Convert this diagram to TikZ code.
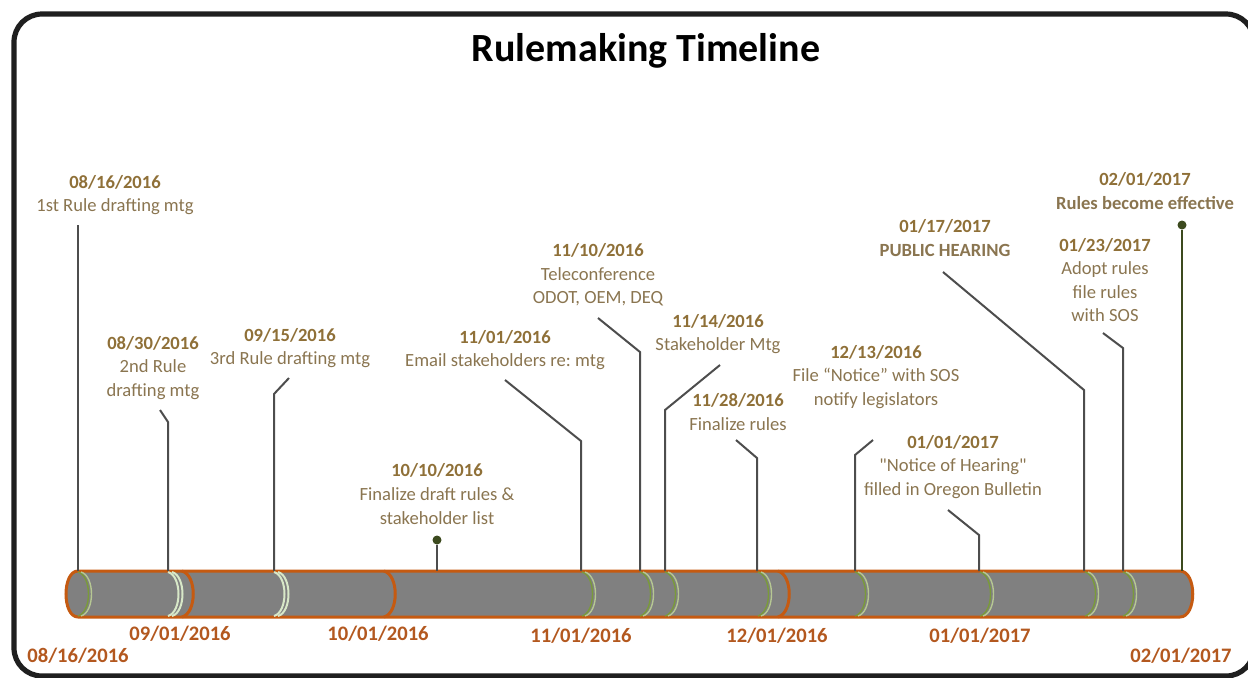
\documentclass[tikz,border=0pt]{standalone}
\usepackage{fontspec}
\setmainfont{Carlito}
\usepackage{xcolor}
\definecolor{barorange}{HTML}{C55A11}
\definecolor{axisorange}{HTML}{B3581F}
\definecolor{datebrown}{HTML}{8F7038}
\definecolor{textbrown}{HTML}{8A7550}
\definecolor{leadgray}{HTML}{4D4D4D}
\definecolor{pingreen}{HTML}{3C4A1E}
\definecolor{arcgreen}{HTML}{7A9A3A}
\definecolor{arclight}{HTML}{D8E8C8}
\definecolor{bargray}{HTML}{808080}
\newcommand{\evdate}[1]{\textcolor{datebrown}{\bfseries #1}}

\begin{document}
\begin{tikzpicture}[x=0.5pt, y=-0.5pt,
                every node/.style={inner sep=0pt, align=center},
                event/.style={text=textbrown, font=\fontsize{9.3}{11.8}\selectfont},
                axis/.style={text=axisorange, font=\bfseries\fontsize{10.3}{12}\selectfont},
                leader/.style={draw=leadgray, line width=1pt},
                pin/.style={draw=pingreen, line width=1.1pt},
                pindot/.style={circle, fill=pingreen, minimum size=4.5pt},
                monarc/.style={draw=barorange, line width=1.5pt},
                evarc/.style={draw=arcgreen, line width=0.7pt}]
        \useasboundingbox (0,0) rectangle (1248,677);
        \draw[line width=2.6pt, draw=black!88, rounded corners=14pt] (14,14) rectangle (1254,676);

        \node[font=\bfseries\fontsize{20}{24}\selectfont] (title) at (646,51) {Rulemaking Timeline};

        %----------------  bar  ----------------
        \path[fill=bargray, draw=barorange, line width=1.5pt]
        (78,571) -- (1180,571) .. controls (1197,571) and (1197,617) .. (1180,617)
        -- (78,617) .. controls (62,617) and (62,571) .. cycle;
        \foreach \x in {182,384,778}
        \draw[monarc] (\x,571) .. controls (\x+15,575) and (\x+15,613) .. (\x,617);
        \foreach \x in {78,582,640,665,758,855,980,1085,1123} {
        \draw[evarc] (\x,572) .. controls (\x+14,576) and (\x+14,612) .. (\x,616);
        \draw[evarc, draw=arcgreen!55] (\x+3,572) .. controls (\x+17,576) and (\x+17,612) .. (\x+3,616);
        }
        \foreach \x in {168,274} {
        \draw[evarc, draw=arclight, line width=1pt] (\x,572) .. controls (\x+14,576) and (\x+14,612) .. (\x,616);
        \draw[evarc, draw=arclight, line width=1pt] (\x+4,572) .. controls (\x+18,576) and (\x+18,612) .. (\x+4,616);
        }

        %----------------  axis dates  ----------------
        \node[axis] (ax0816) at (78,656)   {08/16/2016};
        \node[axis] (ax0901) at (180,634)  {09/01/2016};
        \node[axis] (ax1001) at (378,634)  {10/01/2016};
        \node[axis] (ax1101) at (581,636)  {11/01/2016};
        \node[axis] (ax1201) at (777,636)  {12/01/2016};
        \node[axis] (ax0101) at (980,636)  {01/01/2017};
        \node[axis] (ax0201) at (1181,656) {02/01/2017};

        %----------------  events  ----------------
        \node[event] (ev0816) at (115,195)  {\evdate{08/16/2016}\\1st Rule drafting mtg};
        \node[event] (ev0830) at (153,368)  {\evdate{08/30/2016}\\2nd Rule\\drafting mtg};
        \node[event] (ev0915) at (290,348)  {\evdate{09/15/2016}\\3rd Rule drafting mtg};
        \node[event] (ev1010) at (437,494)  {\evdate{10/10/2016}\\Finalize draft rules \&\\stakeholder list};
        \node[event] (ev1101) at (505,350)  {\evdate{11/01/2016}\\Email stakeholders re:\ mtg};
        \node[event] (ev1110) at (598,275)  {\evdate{11/10/2016}\\Teleconference\\ODOT, OEM, DEQ};
        \node[event] (ev1114) at (718,334)  {\evdate{11/14/2016}\\Stakeholder Mtg};
        \node[event] (ev1128) at (738,412)  {\evdate{11/28/2016}\\Finalize rules};
        \node[event] (ev1213) at (876,377)  {\evdate{12/13/2016}\\File “Notice” with SOS\\notify legislators};
        \node[event] (ev0101) at (953,467)  {\evdate{01/01/2017}\\\textquotedbl Notice of Hearing\textquotedbl\\filled in Oregon Bulletin};
        \node[event] (ev0117) at (945,238)  {\evdate{01/17/2017}\\\textbf{PUBLIC HEARING}};
        \node[event] (ev0123) at (1105,280) {\evdate{01/23/2017}\\Adopt rules\\file rules\\with SOS};
        \node[event] (ev0201) at (1145,191) {\evdate{02/01/2017}\\\textbf{Rules become effective}};

        %----------------  leaders  ----------------
        \coordinate (t0816) at (78,225);   \coordinate (b0816) at (78,571);
        \coordinate (t0830) at (160,410);  \coordinate (k0830) at (168,422);  \coordinate (b0830) at (168,571);
        \coordinate (t0915) at (289,378);  \coordinate (k0915) at (274,394);  \coordinate (b0915) at (274,571);
        \coordinate (b1010) at (437,571);
        \coordinate (t1101) at (505,380);  \coordinate (k1101) at (581,441);  \coordinate (b1101) at (581,571);
        \coordinate (t1110) at (598,318);  \coordinate (k1110) at (640,352);  \coordinate (b1110) at (640,571);
        \coordinate (t1114) at (720,365);  \coordinate (k1114) at (665,410);  \coordinate (b1114) at (665,571);
        \coordinate (t1128) at (736,440);  \coordinate (k1128) at (757,458);  \coordinate (b1128) at (757,571);
        \coordinate (t1213) at (873,440);  \coordinate (k1213) at (855,455);  \coordinate (b1213) at (855,571);
        \coordinate (t0101) at (948,510);  \coordinate (k0101) at (979,535);  \coordinate (b0101) at (979,571);
        \coordinate (t0117) at (943,272);  \coordinate (k0117) at (1084,390); \coordinate (b0117) at (1084,571);
        \coordinate (t0123) at (1103,333); \coordinate (k0123) at (1123,348); \coordinate (b0123) at (1123,571);
        \coordinate (b0201) at (1182,571);

        \draw[leader] (t0816) -- (b0816);
        \draw[leader] (t0830) -- (k0830) -- (b0830);
        \draw[leader] (t0915) -- (k0915) -- (b0915);
        \draw[leader] (t1101) -- (k1101) -- (b1101);
        \draw[leader] (t1110) -- (k1110) -- (b1110);
        \draw[leader] (t1114) -- (k1114) -- (b1114);
        \draw[leader] (t1128) -- (k1128) -- (b1128);
        \draw[leader] (t1213) -- (k1213) -- (b1213);
        \draw[leader] (t0101) -- (k0101) -- (b0101);
        \draw[leader] (t0117) -- (k0117) -- (b0117);
        \draw[leader] (t0123) -- (k0123) -- (b0123);

        %----------------  pins  ----------------
        \node[pindot] (p1010) at (437,540) {};
        \node[pindot] (p0201) at (1182,225) {};
        \draw[pin, draw=leadgray] (p1010) -- (b1010);
        \draw[pin, line width=1.4pt] (p0201) -- (b0201);

\end{tikzpicture}
\end{document}
